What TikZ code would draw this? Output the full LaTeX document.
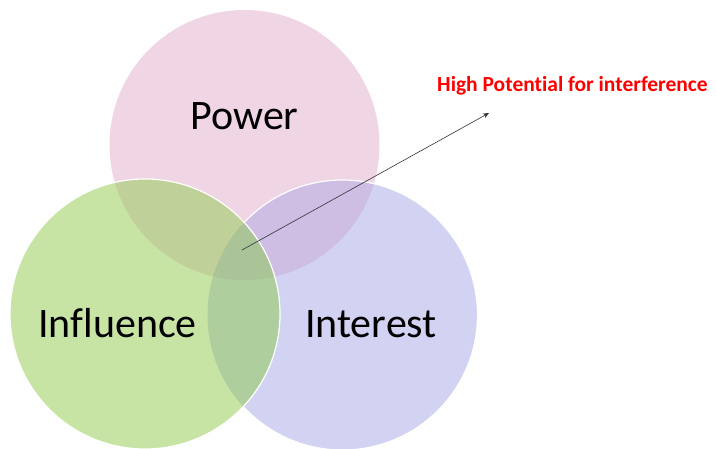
\documentclass[tikz,border=0pt]{standalone}
\usepackage{fontspec}
\setmainfont[Ligatures=NoCommon]{Carlito}
\usetikzlibrary{arrows.meta}
\definecolor{pinkc}{RGB}{240,213,229}
\definecolor{greenc}{RGB}{200,228,165}
\definecolor{purplec}{RGB}{210,210,242}
\definecolor{pinkpurple}{RGB}{206,190,228}
\definecolor{pinkgreen}{RGB}{192,208,153}
\definecolor{greenpurple}{RGB}{175,206,158}
\definecolor{triplec}{RGB}{170,196,152}
\definecolor{redtext}{RGB}{255,0,0}
\tikzset{
  label/.style={font=\fontsize{42}{42}\selectfont, text=black, inner sep=0pt, anchor=base},
  rim/.style={draw=white, line width=1.2pt},
  pointer/.style={draw=black!80, line width=0.6pt, -{Stealth[length=6pt,width=5pt]}}
}
\begin{document}
\begin{tikzpicture}[x=1pt,y=-1pt]
\useasboundingbox (0,0) rectangle (716,448);
\coordinate (cpow) at (244.5,145);
\coordinate (cinf) at (145,314);
\coordinate (cint) at (342.5,315);
% pink circle
\fill[pinkc] (cpow) circle[radius=135pt];
% purple circle
\fill[purplec] (cint) circle[radius=135pt];
\begin{scope}
  \clip (cpow) circle[radius=135pt];
  \fill[pinkpurple] (cint) circle[radius=135pt];
\end{scope}
\draw[rim] (cint) circle[radius=135pt];
% green circle
\fill[greenc] (cinf) circle[radius=135pt];
\begin{scope}
  \clip (cinf) circle[radius=135pt];
  \begin{scope}
    \clip (cpow) circle[radius=135pt];
    \fill[pinkgreen] (cinf) circle[radius=135pt];
  \end{scope}
  \begin{scope}
    \clip (cint) circle[radius=135pt];
    \fill[greenpurple] (cinf) circle[radius=135pt];
    \clip (cpow) circle[radius=135pt];
    \fill[triplec] (cinf) circle[radius=135pt];
  \end{scope}
\end{scope}
\draw[rim] (cinf) circle[radius=135pt];
% labels
\node[label] (power) at (244.5,129) {Power};
\node[label] (influence) at (117.5,337) {Influence};
\node[label] (interest) at (371,337) {Interest};
\node[font=\bfseries\fontsize{21.5}{21.5}\selectfont, text=redtext, inner sep=0pt, anchor=base west] (hp) at (437,91) {High Potential for interference};
% arrow
\coordinate (astart) at (242,250);
\coordinate (aend) at (489,113);
\draw[pointer] (astart) -- (aend);
\end{tikzpicture}
\end{document}
